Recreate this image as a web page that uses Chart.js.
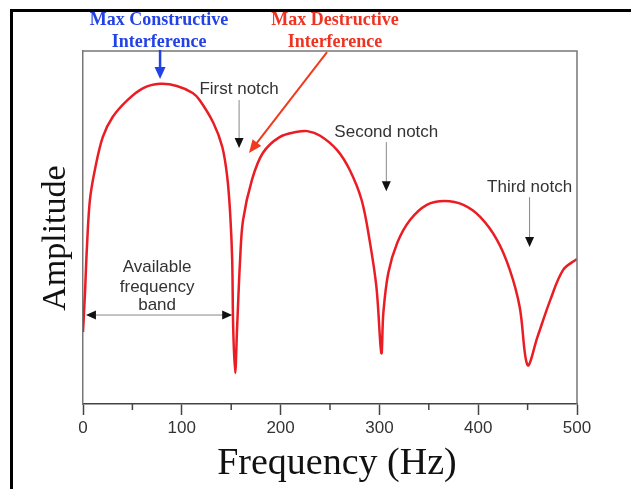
<!DOCTYPE html>
<html>
<head>
<meta charset="utf-8">
<script src="https://cdn.jsdelivr.net/npm/chart.js@4.4.1/dist/chart.umd.min.js"></script>
<style>
  html, body { margin: 0; padding: 0; background: #fff; overflow: hidden; }
  #wrap { position: relative; width: 631px; height: 489px; }
  #frame { position: absolute; left: 10px; top: 9px; width: 640px; height: 500px;
           border-left: 3px solid #000; border-top: 3px solid #000; pointer-events: none; }
</style>
</head>
<body>
<div id="wrap">
  <canvas id="notchChart" width="631" height="489"></canvas>
  <div id="frame"></div>
</div>
<script>
// Frequency response (Hz, arbitrary amplitude 0..1)
const frequencyHz = [0, 2, 4, 7, 12, 20, 30, 45, 61, 78, 95, 111, 118, 132, 141, 146, 149, 151, 152, 154,
  156, 159, 162, 171, 182, 199, 217, 227, 240, 257, 270, 282, 290, 297, 302,
  304, 309, 318, 331, 348, 366, 385, 402, 419, 432, 442, 450,
  460, 473, 486, 500];
const amplitude = [0.204, 0.314, 0.445, 0.578, 0.663, 0.756, 0.813, 0.861, 0.895, 0.907, 0.901, 0.881, 0.861, 0.796, 0.728, 0.643, 0.538, 0.408, 0.218, 0.088,
  0.218, 0.408, 0.521, 0.635, 0.711, 0.756, 0.771, 0.773, 0.760, 0.720, 0.663, 0.578, 0.465, 0.331, 0.144,
  0.258, 0.371, 0.456, 0.521, 0.564, 0.575, 0.564, 0.530, 0.465, 0.380, 0.275, 0.110,
  0.190, 0.295, 0.380, 0.411];
const xTicks = [0, 100, 200, 300, 400, 500];
const minorTicks = [50, 150, 250, 350, 450];

// labels and arrows, anchored in data coordinates
const notes = [
  { text: 'Max Constructive', f: 77, a: 1.088, font: 'bold 18px "Liberation Serif"', color: '#2342e6' },
  { text: 'Interference', f: 77, a: 1.025, font: 'bold 18px "Liberation Serif"', color: '#2342e6' },
  { text: 'Max Destructive', f: 255, a: 1.088, font: 'bold 18px "Liberation Serif"', color: '#ee3322' },
  { text: 'Interference', f: 255, a: 1.025, font: 'bold 18px "Liberation Serif"', color: '#ee3322' },
  { text: 'First notch', f: 158, a: 0.892, font: '17px "Liberation Sans"', color: '#333' },
  { text: 'Second notch', f: 307, a: 0.771, font: '17px "Liberation Sans"', color: '#333' },
  { text: 'Third notch', f: 452, a: 0.615, font: '17px "Liberation Sans"', color: '#333' },
  { text: 'Available', f: 75, a: 0.388, font: '17px "Liberation Sans"', color: '#333' },
  { text: 'frequency', f: 75, a: 0.331, font: '17px "Liberation Sans"', color: '#333' },
  { text: 'band', f: 75, a: 0.280, font: '17px "Liberation Sans"', color: '#333' },
  { text: 'Frequency (Hz)', f: 257, a: -0.17, font: '38px "Liberation Serif"', color: '#111' },
  { text: 'Amplitude', f: -27.3, a: 0.47, font: '34px "Liberation Serif"', color: '#111', rotate: true }
];
const arrows = [
  { from: [78, 1.003], to: [78, 0.921], line: '#2342e6', head: '#2342e6', width: 2.5, len: 12, half: 5.5 },
  { from: [247, 0.997], to: [168, 0.711], line: '#f03a1e', head: '#f03a1e', width: 2, len: 13, half: 5.5 },
  { from: [158, 0.861], to: [158, 0.725], line: '#888', head: '#111', width: 1, len: 10, half: 4.5 },
  { from: [307, 0.742], to: [307, 0.603], line: '#888', head: '#111', width: 1, len: 10, half: 4.5 },
  { from: [452, 0.586], to: [452, 0.445], line: '#888', head: '#111', width: 1, len: 10, half: 4.5 },
  { from: [3, 0.252], to: [151, 0.252], line: '#888', head: '#111', width: 1, len: 10, half: 4.5, both: true }
];

function arrowHead(ctx, x1, y1, x2, y2, len, half) {
  const ang = Math.atan2(y2 - y1, x2 - x1);
  ctx.beginPath();
  ctx.moveTo(x2, y2);
  ctx.lineTo(x2 - len * Math.cos(ang) + half * Math.sin(ang), y2 - len * Math.sin(ang) - half * Math.cos(ang));
  ctx.lineTo(x2 - len * Math.cos(ang) - half * Math.sin(ang), y2 - len * Math.sin(ang) + half * Math.cos(ang));
  ctx.closePath();
  ctx.fill();
}

const notesPlugin = {
  id: 'notchNotes',
  afterDraw(chart) {
    const { ctx, chartArea: area, scales: { x, y } } = chart;
    const px = v => x.getPixelForValue(v);
    const py = v => y.getPixelForValue(v);
    ctx.save();

    // top and right edge of the plot box
    ctx.strokeStyle = '#777';
    ctx.lineWidth = 1.5;
    ctx.beginPath();
    ctx.moveTo(area.left, area.top);
    ctx.lineTo(area.right, area.top);
    ctx.lineTo(area.right, area.bottom);
    ctx.stroke();

    // short minor ticks
    ctx.strokeStyle = '#444';
    minorTicks.forEach(v => {
      ctx.beginPath();
      ctx.moveTo(px(v), area.bottom);
      ctx.lineTo(px(v), area.bottom + 6);
      ctx.stroke();
    });

    arrows.forEach(ar => {
      let x1 = px(ar.from[0]), y1 = py(ar.from[1]), x2 = px(ar.to[0]), y2 = py(ar.to[1]);
      const ang = Math.atan2(y2 - y1, x2 - x1);
      ctx.strokeStyle = ar.line;
      ctx.fillStyle = ar.head;
      ctx.lineWidth = ar.width;
      ctx.beginPath();
      ctx.moveTo(x1 + (ar.both ? ar.len * Math.cos(ang) : 0), y1 + (ar.both ? ar.len * Math.sin(ang) : 0));
      ctx.lineTo(x2 - ar.len * Math.cos(ang) * 0.8, y2 - ar.len * Math.sin(ang) * 0.8);
      ctx.stroke();
      arrowHead(ctx, x1, y1, x2, y2, ar.len, ar.half);
      if (ar.both) arrowHead(ctx, x2, y2, x1, y1, ar.len, ar.half);
    });

    ctx.textAlign = 'center';
    ctx.textBaseline = 'middle';
    notes.forEach(n => {
      ctx.font = n.font;
      ctx.fillStyle = n.color;
      if (n.rotate) {
        ctx.save();
        ctx.translate(px(n.f), py(n.a));
        ctx.rotate(-Math.PI / 2);
        ctx.fillText(n.text, 0, 0);
        ctx.restore();
      } else {
        ctx.fillText(n.text, px(n.f), py(n.a));
      }
    });
    ctx.restore();
  }
};

const ctx = document.getElementById('notchChart').getContext('2d');
new Chart(ctx, {
  type: 'line',
  data: {
    datasets: [{
      data: frequencyHz.map((f, i) => ({ x: f, y: amplitude[i] })),
      borderColor: '#ea1c24',
      borderWidth: 2.5,
      pointRadius: 0,
      tension: 0.35,
      fill: false
    }]
  },
  options: {
    responsive: false,
    animation: false,
    devicePixelRatio: 1,
    layout: { padding: { top: 51, right: 54, left: 0, bottom: 0 } },
    plugins: { legend: { display: false }, tooltip: { enabled: false } },
    scales: {
      x: {
        type: 'linear',
        min: 0,
        max: 500,
        afterBuildTicks: s => { s.ticks = xTicks.map(v => ({ value: v })); },
        afterFit: s => { s.height = 85; },
        grid: { drawOnChartArea: false, tickLength: 11, tickColor: '#444', tickWidth: 1.5 },
        border: { color: '#444', width: 1.5 },
        ticks: { padding: 3, color: '#333', maxRotation: 0, font: { family: '"Liberation Sans", Arial', size: 17 } }
      },
      y: {
        min: 0,
        max: 1,
        afterFit: s => { s.width = 83; },
        ticks: { display: false },
        grid: { display: false },
        border: { display: true, color: '#777', width: 1.5 }
      }
    }
  },
  plugins: [notesPlugin]
});
</script>
</body>
</html>
